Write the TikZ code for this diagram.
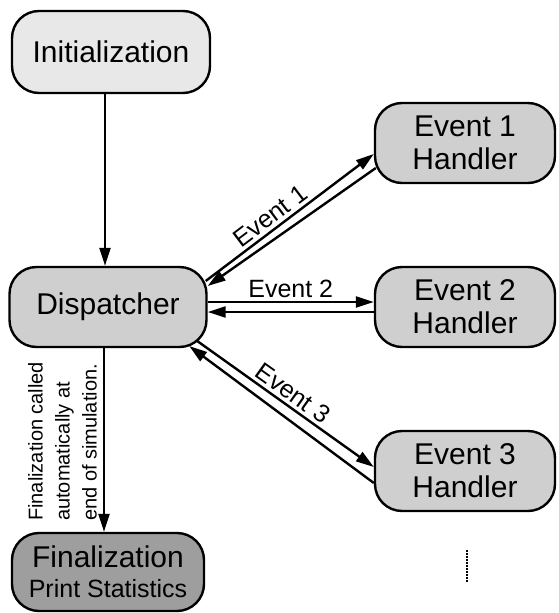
\documentclass[tikz,border=0pt]{standalone}
\usepackage{fontspec}
\setmainfont{Liberation Sans}
\usetikzlibrary{arrows.meta,calc}
\definecolor{initfill}{gray}{0.91}
\definecolor{dispfill}{gray}{0.81}
\definecolor{finfill}{gray}{0.62}

\begin{document}
\begin{tikzpicture}[x=1pt,y=-1pt,
  box/.style={draw,line width=2.4pt,rounded corners=27pt,align=center,minimum width=180pt,minimum height=80pt,font=\fontsize{30}{33}\selectfont},
  flow/.style={line width=2.4pt,-{Triangle[length=18pt,width=11pt]}},
  evlabel/.style={font=\fontsize{25}{28}\selectfont,inner sep=3pt}]
\useasboundingbox (0,0) rectangle (559,613);
\node[box,fill=initfill,minimum width=198pt,minimum height=82pt] (init) at (111,52) {Initialization};
\node[box,fill=dispfill,minimum width=197pt] (disp) at (108,307) {Dispatcher};
\node[box,fill=finfill,minimum width=192pt,minimum height=78pt] (fin) at (108,572) {Finalization\\[-3pt]\fontsize{25}{28}\selectfont Print Statistics};
\foreach \n/\y in {1/143,2/307,3/471} { \node[box,fill=dispfill] (h\n) at (465,\y) {Event \n\\Handler}; };
\node[rotate=90,anchor=south west,align=left,inner sep=0pt,font=\fontsize{20}{27}\selectfont] (note) at (97,521) {Finalization called\\automatically at\\end of simulation.};
\draw[flow] ([xshift=-3pt]disp.north |- init.south) -- ([xshift=-3pt]disp.north);
\draw[flow] ([xshift=-4pt]disp.south) -- ([xshift=-4pt]fin.north);
\draw[flow] ($(disp.east)+(-2,-26)$) -- ($(h1.west)+(0,11)$) node[pos=0.43,above,sloped,evlabel] {Event 1};
\draw[flow] ($(h1.west)+(2,25)$) -- ($(disp.east)+(0,-21)$);
\draw[flow] ($(disp.east)+(0,-5)$) -- ($(h2.west)+(0,-5)$) node[midway,above,evlabel] {Event 2};
\draw[flow] ($(h2.west)+(0,5)$) -- ($(disp.east)+(0,5)$);
\draw[flow] ($(disp.east)+(-10.5,34)$) -- ($(h3.west)+(0,-4)$) node[midway,above,sloped,evlabel] {Event 3};
\draw[flow] ($(h3.west)+(0,12)$) -- ($(disp.east)+(-18.5,39)$);
\coordinate (dtop) at (467,550); \coordinate (dbot) at (467,583);
\draw[line width=2pt,dash pattern=on 1.5pt off 1.5pt] (dtop) -- (dbot);
\end{tikzpicture}
\end{document}
